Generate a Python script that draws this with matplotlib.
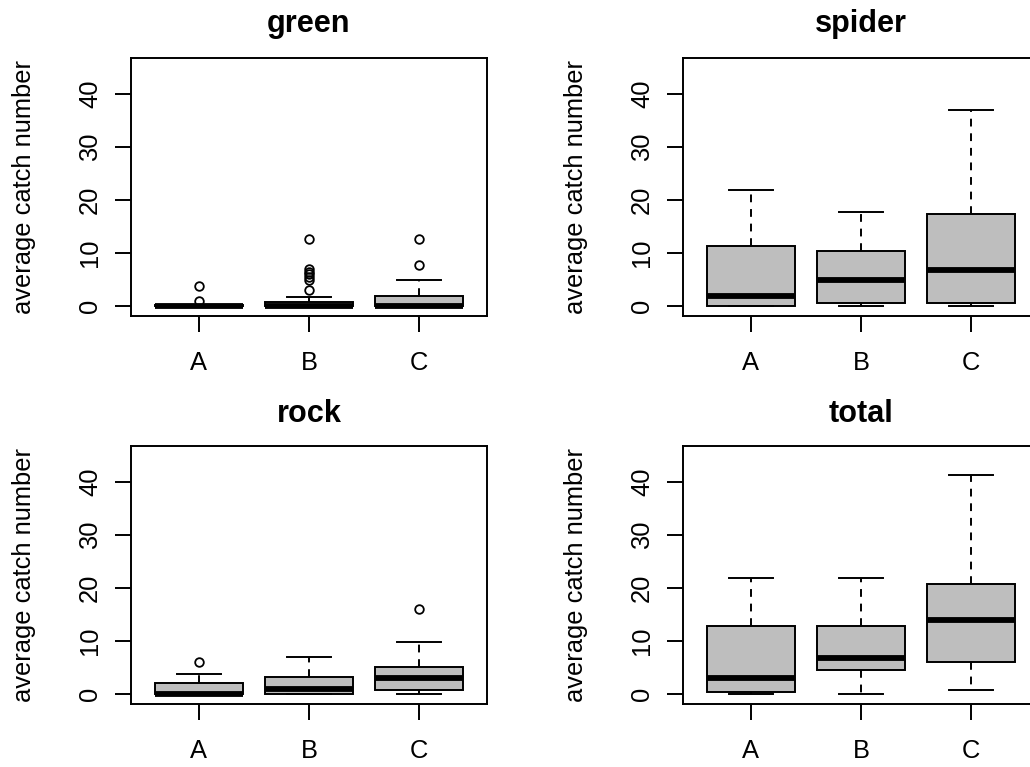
import matplotlib
matplotlib.use("Agg")
import matplotlib.pyplot as plt

plt.rcParams['font.family'] = ['Liberation Sans', 'DejaVu Sans']

# ---------------- data ----------------
groups = ['A', 'B', 'C']
panels = ['green', 'spider', 'rock', 'total']
y_ticks = [0, 10, 20, 30, 40]
y_label = 'average catch number'

green_q1 = [0, 0, 0]
green_med = [0, 0, 0]
green_q3 = [0.25, 0.75, 2]
green_lo = [0, 0, 0]
green_hi = [0.25, 1.75, 5]
green_fliers = [[1, 3.75], [3, 5, 5.5, 6, 6.5, 7, 12.75], [7.75, 12.75]]

spider_q1 = [0, 0.65, 0.65]
spider_med = [1.9, 4.9, 6.8]
spider_q3 = [11.3, 10.5, 17.3]
spider_lo = [0, 0, 0]
spider_hi = [21.9, 17.7, 37.1]
spider_fliers = [[], [], []]

rock_q1 = [0, 0, 0.75]
rock_med = [0, 0.9, 3]
rock_q3 = [2, 3.1, 5]
rock_lo = [0, 0, 0]
rock_hi = [3.85, 7, 9.8]
rock_fliers = [[6], [], [16]]

total_q1 = [0.3, 4.5, 6]
total_med = [3, 6.8, 14]
total_q3 = [12.8, 12.8, 20.8]
total_lo = [0, 0, 0.7]
total_hi = [21.9, 21.9, 41.2]
total_fliers = [[], [], []]

panel_data = {
    'green': (green_q1, green_med, green_q3, green_lo, green_hi, green_fliers),
    'spider': (spider_q1, spider_med, spider_q3, spider_lo, spider_hi, spider_fliers),
    'rock': (rock_q1, rock_med, rock_q3, rock_lo, rock_hi, rock_fliers),
    'total': (total_q1, total_med, total_q3, total_lo, total_hi, total_fliers),
}

# ---------------- figure ----------------
W, H = 1030, 767
fig = plt.figure(figsize=(W / 100, H / 100), dpi=100)

ax_w = 356.6 / W
ax_h = 258.5 / H
lefts = [130.7 / W, 682.7 / W]
bottoms = [(H - 316.3) / H, (H - 704.0) / H]
title_pads = [18.7, 16.6]

LW = 1.4
FS = 18.4
TFS = 22.1

for i, name in enumerate(panels):
    r, c = divmod(i, 2)
    ax = fig.add_axes([lefts[c], bottoms[r], ax_w, ax_h])
    q1, med, q3, lo, hi, fl = panel_data[name]
    stats = []
    for g in range(len(groups)):
        stats.append(dict(label=groups[g], q1=q1[g], med=med[g], q3=q3[g],
                          whislo=lo[g], whishi=hi[g], fliers=fl[g]))
    ax.bxp(stats, positions=[1, 2, 3], widths=0.8, capwidths=0.4,
           patch_artist=True, showfliers=True,
           boxprops=dict(facecolor='#BEBEBE', edgecolor='black', linewidth=LW),
           whiskerprops=dict(color='black', linewidth=LW, linestyle=(0, (4, 3.5))),
           capprops=dict(color='black', linewidth=LW),
           medianprops=dict(color='black', linewidth=4.2, solid_capstyle='butt'),
           flierprops=dict(marker='o', markerfacecolor='none', markeredgecolor='black',
                           markersize=6.2, markeredgewidth=1.3, linestyle='none'))
    ax.set_xlim(0.38, 3.62)
    ax.set_ylim(-1.9, 46.85)
    ax.set_xticks([1, 2, 3])
    ax.set_xticklabels(groups)
    ax.set_yticks(y_ticks)
    ax.set_yticklabels([str(t) for t in y_ticks], rotation=90, va='center')
    ax.tick_params(axis='both', direction='out', length=11.5, width=LW,
                   labelsize=FS, colors='black')
    ax.tick_params(axis='x', pad=13.5)
    ax.tick_params(axis='y', pad=9.0)
    for s in ax.spines.values():
        s.set_linewidth(LW)
        s.set_color('black')
    ax.set_title(name, fontsize=TFS, fontweight='bold', pad=title_pads[r])
    ax.set_ylabel(y_label, fontsize=FS, va='center')
    ax.yaxis.set_label_coords(-0.30, 0.5)

fig.savefig('out.png', dpi=100)
